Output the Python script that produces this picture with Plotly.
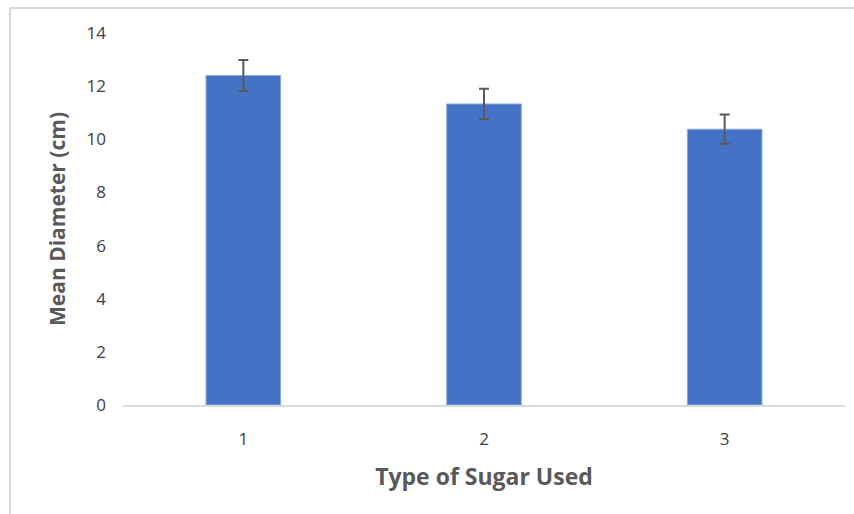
import plotly.graph_objects as go

categories = ["1", "2", "3"]
means = [12.4, 11.33, 10.38]
errors = [0.58, 0.57, 0.55]
y_ticks = [0, 2, 4, 6, 8, 10, 12, 14]

L, R, T, B = 123, 9, 33, 109
W, H = 854, 514
pw, ph = W - L - R, H - T - B

fig = go.Figure(go.Bar(
    x=[1, 2, 3], y=means,
    width=0.31,
    marker=dict(color="#4472C4", line=dict(color="#8EA9DB", width=1)),
    error_y=dict(type="data", array=errors, visible=True,
                 color="#595959", thickness=2, width=5),
))

def px_x(p):
    return (p - L) / pw

def px_y(p):
    return (H - B - p) / ph

fig.update_layout(
    width=W, height=H,
    margin=dict(l=L, r=R, t=T, b=B),
    paper_bgcolor="white", plot_bgcolor="white",
    showlegend=False,
    font=dict(family="Open Sans", color="#404040"),
    xaxis=dict(
        range=[0.5, 3.5], tickvals=[1, 2, 3], ticktext=categories,
        showgrid=False, zeroline=False,
        showline=True, linecolor="#D9D9D9", linewidth=1.5,
        tickfont=dict(size=17, color="#404040"),
        ticklabelstandoff=18,
        title=dict(text="<b>Type of Sugar Used</b>",
                   font=dict(size=23, color="#595959"), standoff=20),
    ),
    yaxis=dict(
        range=[0, 14], tickvals=y_ticks,
        showgrid=False, zeroline=False, showline=False,
        tickfont=dict(size=17, color="#404040"),
        ticklabelstandoff=16,
        title=dict(text="<b>Mean Diameter (cm)</b>",
                   font=dict(size=21, color="#595959"), standoff=15),
    ),
    shapes=[
        dict(type="line", xref="paper", yref="paper",
             x0=px_x(10), x1=px_x(854), y0=px_y(8), y1=px_y(8),
             line=dict(color="#D9D9D9", width=2)),
        dict(type="line", xref="paper", yref="paper",
             x0=px_x(10), x1=px_x(10), y0=px_y(8), y1=px_y(514),
             line=dict(color="#D9D9D9", width=2)),
    ],
)

fig.write_html(
    "out.html",
    config={"displayModeBar": False},
    post_script="document.body.style.margin='0';document.body.style.overflow='hidden';",
)
